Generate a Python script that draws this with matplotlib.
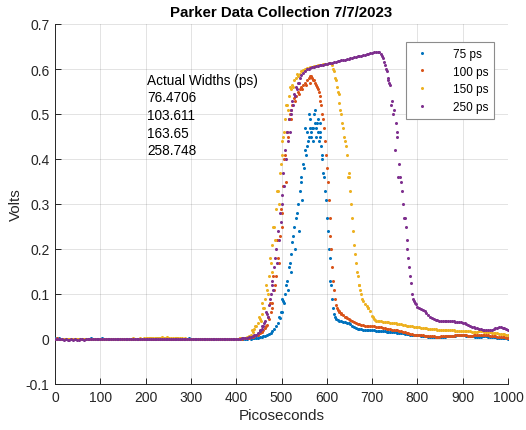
import numpy as np
import matplotlib
matplotlib.use("Agg")
import matplotlib.pyplot as plt

plt.rcParams['font.family'] = ['Liberation Sans', 'DejaVu Sans']

# time base (ps), 4 ps step
time_ps = np.arange(0, 1001, 4)

# 75 ps pulse (V)
v75 = [
 0.002,0.001,0.002,0.001,0.000,0.001,0.001,0.000,-0.001,0.000,0.001,0.000,0.000,-0.001,0.000,0.000,0.001,0.000,0.000,0.001,0.002,0.001,0.001,0.000,0.001,
 0.001,0.002,0.001,0.000,0.001,0.000,0.000,0.001,0.001,0.000,0.000,-0.001,0.000,0.000,0.001,0.000,0.001,0.000,0.000,0.000,0.001,0.000,-0.001,0.000,0.001,
 0.001,0.000,0.001,0.002,0.001,0.001,0.002,0.002,0.001,0.002,0.001,0.001,0.002,0.001,0.001,0.000,0.001,0.002,0.001,0.001,0.001,0.000,0.001,0.001,0.002,
 0.001,0.001,0.000,0.001,0.000,0.001,0.001,0.000,0.000,0.001,0.000,0.001,0.000,0.000,0.001,0.000,0.001,0.001,0.000,0.001,0.000,0.001,0.001,0.000,0.001,
 0.001,0.000,0.001,0.001,0.000,0.001,0.001,0.002,0.001,0.002,0.002,0.003,0.003,0.004,0.004,0.006,0.007,0.009,0.011,0.014,0.017,0.022,0.030,0.036,0.046,
 0.060,0.085,0.100,0.130,0.160,0.190,0.215,0.250,0.270,0.300,0.330,0.360,0.390,0.420,0.460,0.450,0.490,0.470,0.500,0.470,0.460,0.480,0.430,0.370,0.330,
 0.270,0.200,0.130,0.090,0.055,0.045,0.042,0.040,0.040,0.038,0.037,0.036,0.035,0.033,0.030,0.026,0.024,0.023,0.022,0.022,0.021,0.021,0.020,0.020,0.019,
 0.019,0.019,0.018,0.018,0.018,0.017,0.017,0.017,0.016,0.016,0.016,0.015,0.015,0.015,0.014,0.014,0.013,0.013,0.012,0.012,0.011,0.010,0.010,0.009,0.009,
 0.008,0.008,0.007,0.007,0.006,0.006,0.005,0.005,0.005,0.004,0.004,0.004,0.004,0.005,0.005,0.005,0.006,0.006,0.006,0.007,0.007,0.007,0.008,0.008,0.008,
 0.008,0.008,0.007,0.007,0.006,0.006,0.006,0.005,0.005,0.005,0.005,0.006,0.006,0.006,0.005,0.005,0.005,0.004,0.004,0.003,0.003,0.003,0.002,0.002,0.002,
 0.001]
# extra (jittered) samples read on the 75 ps edges
t75_extra = [494, 498, 502, 506, 510, 514, 518, 522, 526, 530, 534, 538, 542, 546, 550, 554, 558,
             562, 566, 570, 574, 578, 582, 586, 590, 594, 598, 602, 606, 610, 614, 618,
             552, 557, 561, 565, 569, 573, 577, 581, 585, 589]
v75_extra = [0.05, 0.06, 0.09, 0.08, 0.12, 0.11, 0.17, 0.15, 0.23, 0.20, 0.28, 0.24, 0.35, 0.31, 0.38, 0.41, 0.44,
             0.47, 0.45, 0.47, 0.51, 0.48, 0.44, 0.46, 0.40, 0.36, 0.31, 0.24, 0.18, 0.12, 0.07, 0.05,
             0.47, 0.43, 0.50, 0.46, 0.44, 0.48, 0.45, 0.49, 0.45, 0.41]

# 100 ps pulse (V)
v100 = [
 0.001,0.002,0.001,0.001,0.000,0.001,0.000,0.000,0.001,0.000,0.000,-0.001,0.000,0.001,0.000,0.001,0.000,0.000,0.001,0.001,0.000,0.001,0.000,0.000,0.001,
 0.000,0.001,0.001,0.000,0.000,0.001,0.000,0.000,-0.001,0.000,0.001,0.000,0.000,0.001,0.000,0.000,0.001,0.000,0.001,0.000,0.000,0.001,0.000,0.000,0.001,
 0.001,0.001,0.002,0.001,0.001,0.000,0.001,0.001,0.002,0.001,0.001,0.002,0.001,0.000,0.001,0.001,0.001,0.002,0.001,0.000,0.001,0.001,0.001,0.000,0.001,
 0.000,0.001,0.001,0.000,0.001,0.001,0.000,0.000,0.001,0.000,0.001,0.000,0.001,0.001,0.000,0.001,0.000,0.001,0.000,0.001,0.001,0.000,0.001,0.001,0.001,
 0.001,0.001,0.002,0.001,0.002,0.002,0.003,0.003,0.004,0.005,0.006,0.008,0.010,0.013,0.016,0.020,0.025,0.032,0.045,0.060,0.080,0.110,0.140,0.180,0.230,
 0.280,0.340,0.410,0.460,0.490,0.510,0.520,0.535,0.540,0.550,0.555,0.560,0.565,0.570,0.575,0.580,0.585,0.580,0.575,0.565,0.555,0.540,0.520,0.490,0.440,
 0.380,0.310,0.230,0.160,0.110,0.075,0.065,0.060,0.057,0.054,0.050,0.047,0.044,0.042,0.040,0.038,0.036,0.034,0.033,0.032,0.031,0.030,0.029,0.029,0.028,
 0.028,0.028,0.027,0.027,0.026,0.026,0.025,0.024,0.023,0.022,0.022,0.021,0.020,0.020,0.019,0.018,0.017,0.016,0.015,0.014,0.013,0.012,0.011,0.010,0.010,
 0.009,0.009,0.008,0.008,0.007,0.007,0.006,0.006,0.006,0.006,0.005,0.005,0.005,0.006,0.006,0.006,0.006,0.007,0.007,0.007,0.007,0.008,0.008,0.008,0.008,
 0.008,0.008,0.008,0.007,0.007,0.007,0.008,0.008,0.008,0.008,0.009,0.009,0.009,0.008,0.008,0.007,0.007,0.006,0.006,0.005,0.005,0.004,0.004,0.004,0.003,
 0.003]
t100_extra = [466, 470, 474, 478, 482, 486, 490, 494, 498, 502, 506, 510, 514, 518, 522, 530, 538, 546, 554, 562,
              566, 570, 574, 578, 582, 586, 590, 594, 598, 602, 606, 610, 614, 618, 622, 626, 632, 642]
v100_extra = [0.03, 0.05, 0.08, 0.07, 0.14, 0.12, 0.22, 0.17, 0.29, 0.25, 0.40, 0.35, 0.45, 0.50, 0.49, 0.53, 0.545, 0.555, 0.565, 0.57,
              0.585, 0.575, 0.57, 0.56, 0.55, 0.53, 0.50, 0.47, 0.41, 0.35, 0.27, 0.20, 0.13, 0.09, 0.07, 0.062, 0.055, 0.05]

# 150 ps pulse (V)
v150 = [
 0.001,0.001,0.000,0.001,0.001,0.000,0.001,0.000,0.000,0.001,0.001,0.000,0.000,0.001,0.000,0.000,0.001,0.001,0.000,0.000,0.001,0.000,0.001,0.001,0.000,
 0.001,0.000,0.000,0.001,0.001,0.000,0.001,0.000,0.001,0.000,0.000,0.001,0.001,0.000,0.001,0.001,0.000,0.001,0.002,0.001,0.001,0.001,0.002,0.001,0.002,
 0.002,0.002,0.003,0.002,0.003,0.003,0.002,0.003,0.003,0.004,0.003,0.003,0.004,0.003,0.003,0.002,0.003,0.002,0.002,0.002,0.002,0.001,0.002,0.001,0.001,
 0.001,0.001,0.000,0.001,0.001,0.000,0.001,0.000,0.001,0.001,0.000,0.001,0.001,0.000,0.001,0.000,0.001,0.001,0.001,0.000,0.001,0.001,0.000,0.001,0.001,
 0.001,0.001,0.002,0.002,0.003,0.003,0.004,0.006,0.010,0.015,0.022,0.028,0.035,0.045,0.055,0.070,0.090,0.110,0.140,0.170,0.210,0.250,0.290,0.330,0.370,
 0.410,0.450,0.490,0.520,0.540,0.555,0.565,0.575,0.580,0.585,0.590,0.595,0.598,0.600,0.602,0.603,0.604,0.605,0.606,0.607,0.608,0.609,0.610,0.611,0.612,
 0.612,0.613,0.613,0.608,0.595,0.575,0.550,0.525,0.500,0.470,0.440,0.410,0.370,0.330,0.270,0.210,0.170,0.140,0.120,0.100,0.085,0.078,0.073,0.068,0.062,
 0.052,0.044,0.041,0.040,0.039,0.039,0.038,0.038,0.037,0.037,0.036,0.036,0.035,0.035,0.034,0.034,0.033,0.032,0.031,0.030,0.029,0.028,0.028,0.027,0.027,
 0.026,0.026,0.025,0.025,0.024,0.024,0.023,0.023,0.022,0.022,0.022,0.021,0.021,0.021,0.020,0.020,0.020,0.019,0.019,0.019,0.019,0.018,0.018,0.018,0.018,
 0.018,0.017,0.017,0.017,0.017,0.016,0.016,0.016,0.016,0.017,0.017,0.017,0.016,0.016,0.015,0.015,0.014,0.014,0.013,0.013,0.012,0.012,0.011,0.011,0.010,
 0.010]
t150_extra = [434, 442, 450, 454, 458, 462, 466, 470, 474, 478, 482, 486, 490, 494, 498, 502, 506, 510, 514, 518, 526, 534,
              614, 618, 622, 626, 630, 634, 638, 642, 646, 650, 654, 658, 662, 666, 670, 674, 678, 690, 702, 706]
v150_extra = [0.02, 0.03, 0.05, 0.04, 0.08, 0.07, 0.12, 0.10, 0.18, 0.15, 0.25, 0.22, 0.33, 0.30, 0.39, 0.44, 0.46, 0.52, 0.51, 0.56, 0.56, 0.59,
              0.60, 0.58, 0.56, 0.545, 0.51, 0.48, 0.45, 0.43, 0.36, 0.36, 0.30, 0.24, 0.19, 0.15, 0.12, 0.11, 0.09, 0.07, 0.048, 0.042]

# 250 ps pulse (V)
v250 = [
 0.001,0.000,0.000,-0.001,-0.001,-0.002,-0.001,-0.002,-0.002,-0.001,-0.002,-0.001,-0.002,-0.002,-0.001,-0.001,-0.002,-0.001,-0.001,0.000,-0.001,0.000,-0.001,0.000,0.000,
 0.000,0.001,0.000,0.000,0.001,0.000,0.000,0.001,0.000,0.000,-0.001,0.000,0.000,0.000,-0.001,0.000,0.000,0.001,0.000,0.000,0.000,0.001,0.000,0.000,0.000,
 0.000,0.000,0.001,0.000,0.000,0.001,0.000,0.001,0.000,0.000,0.001,0.001,0.000,0.001,0.000,0.001,0.000,0.000,0.001,0.000,0.001,0.000,0.000,0.001,0.000,
 0.000,0.001,0.000,0.000,0.000,-0.001,0.000,0.000,0.001,0.000,0.000,0.000,0.001,0.000,0.000,0.001,0.000,0.000,0.000,0.001,0.000,0.001,0.000,0.001,0.001,
 0.001,0.001,0.001,0.002,0.002,0.003,0.003,0.004,0.005,0.006,0.008,0.010,0.013,0.017,0.022,0.028,0.040,0.055,0.075,0.100,0.130,0.160,0.200,0.240,0.280,
 0.320,0.370,0.420,0.460,0.490,0.510,0.530,0.545,0.560,0.570,0.580,0.587,0.592,0.596,0.599,0.601,0.603,0.604,0.605,0.606,0.607,0.608,0.609,0.610,0.611,
 0.612,0.613,0.613,0.614,0.615,0.616,0.617,0.618,0.619,0.620,0.621,0.622,0.623,0.624,0.625,0.626,0.627,0.628,0.629,0.630,0.631,0.632,0.633,0.634,0.635,
 0.636,0.637,0.638,0.638,0.637,0.633,0.625,0.610,0.595,0.580,0.565,0.530,0.510,0.480,0.450,0.390,0.350,0.300,0.270,0.220,0.180,0.140,0.100,0.085,0.078,
 0.072,0.068,0.066,0.064,0.062,0.058,0.054,0.050,0.047,0.045,0.043,0.042,0.041,0.040,0.040,0.040,0.039,0.039,0.039,0.039,0.039,0.038,0.038,0.038,0.037,
 0.036,0.035,0.033,0.031,0.029,0.027,0.026,0.025,0.024,0.023,0.022,0.021,0.020,0.020,0.020,0.019,0.020,0.022,0.024,0.025,0.026,0.026,0.025,0.024,0.022,
 0.020]
t250_extra = [452, 458, 462, 466, 470, 474, 478, 482, 486, 490, 494, 498, 502, 506, 510, 514, 518, 522, 526, 530, 534, 538,
              722, 726, 730, 734, 738, 742, 746, 750, 754, 758, 762, 766, 770, 774, 778, 782, 786, 790, 794]
v250_extra = [0.02, 0.03, 0.035, 0.06, 0.05, 0.09, 0.12, 0.11, 0.18, 0.17, 0.22, 0.26, 0.30, 0.34, 0.40, 0.44, 0.46, 0.50, 0.52, 0.54, 0.555, 0.57,
              0.628, 0.615, 0.60, 0.575, 0.57, 0.52, 0.50, 0.42, 0.46, 0.36, 0.36, 0.33, 0.27, 0.25, 0.20, 0.16, 0.125, 0.09, 0.08]

series_labels = ['75 ps', '100 ps', '150 ps', '250 ps']
series_values = [v75, v100, v150, v250]
series_extra_t = [t75_extra, t100_extra, t150_extra, t250_extra]
series_extra_v = [v75_extra, v100_extra, v150_extra, v250_extra]
series_colors = ['#0072BD', '#D95319', '#EDB120', '#7E2F8E']

actual_widths = ['76.4706', '103.611', '163.65', '258.748']

x_ticks = list(range(0, 1001, 100))
y_ticks = [-0.1, 0, 0.1, 0.2, 0.3, 0.4, 0.5, 0.6, 0.7]
y_tick_labels = ['-0.1', '0', '0.1', '0.2', '0.3', '0.4', '0.5', '0.6', '0.7']

fig = plt.figure(figsize=(5.26, 4.31), dpi=100)
ax = fig.add_axes([55/526, 46/431, 453/526, 360/431])

axis_col = '#262626'
for lab, vals, et, ev, col in zip(series_labels, series_values, series_extra_t,
                                  series_extra_v, series_colors):
    tx = np.concatenate([time_ps, np.asarray(et, dtype=float)])
    vy = np.concatenate([np.asarray(vals, dtype=float), np.asarray(ev, dtype=float)])
    ax.plot(tx, vy, linestyle='none', marker='o', ms=2.2, mew=0,
            color=col, label=lab, zorder=3)

ax.set_xlim(0, 1000)
ax.set_ylim(-0.1, 0.7)
ax.set_xticks(x_ticks)
ax.set_xticklabels([str(v) for v in x_ticks])
ax.set_yticks(y_ticks)
ax.set_yticklabels(y_tick_labels)
ax.grid(True, color=axis_col, alpha=0.15, linewidth=0.6, zorder=0)
ax.set_axisbelow(True)

for s in ['top', 'right']:
    ax.spines[s].set_visible(False)
for s in ['left', 'bottom']:
    ax.spines[s].set_color(axis_col)
    ax.spines[s].set_linewidth(0.7)
ax.tick_params(direction='in', length=4, width=0.7, colors=axis_col,
               labelsize=10, labelcolor=axis_col, pad=4)

ax.set_xlabel('Picoseconds', fontsize=11, color=axis_col, labelpad=3)
ax.set_ylabel('Volts', fontsize=11, color=axis_col, labelpad=2)
ax.set_title('Parker Data Collection 7/7/2023', fontsize=10.8,
             fontweight='bold', color='black', pad=6)

ax.text(203, 0.498, 'Actual Widths (ps)\n' + '\n'.join(actual_widths),
        fontsize=9.8, va='center', ha='left', linespacing=1.33, color='black')

leg = ax.legend(loc='upper right', bbox_to_anchor=(0.982, 0.967),
                fontsize=8.5, markerscale=1.0, handlelength=1.6,
                handletextpad=1.8, borderpad=0.5, labelspacing=0.5,
                fancybox=False, framealpha=1, edgecolor='#8c8c8c')
leg.get_frame().set_linewidth(0.8)

fig.savefig('out.png', dpi=100)
